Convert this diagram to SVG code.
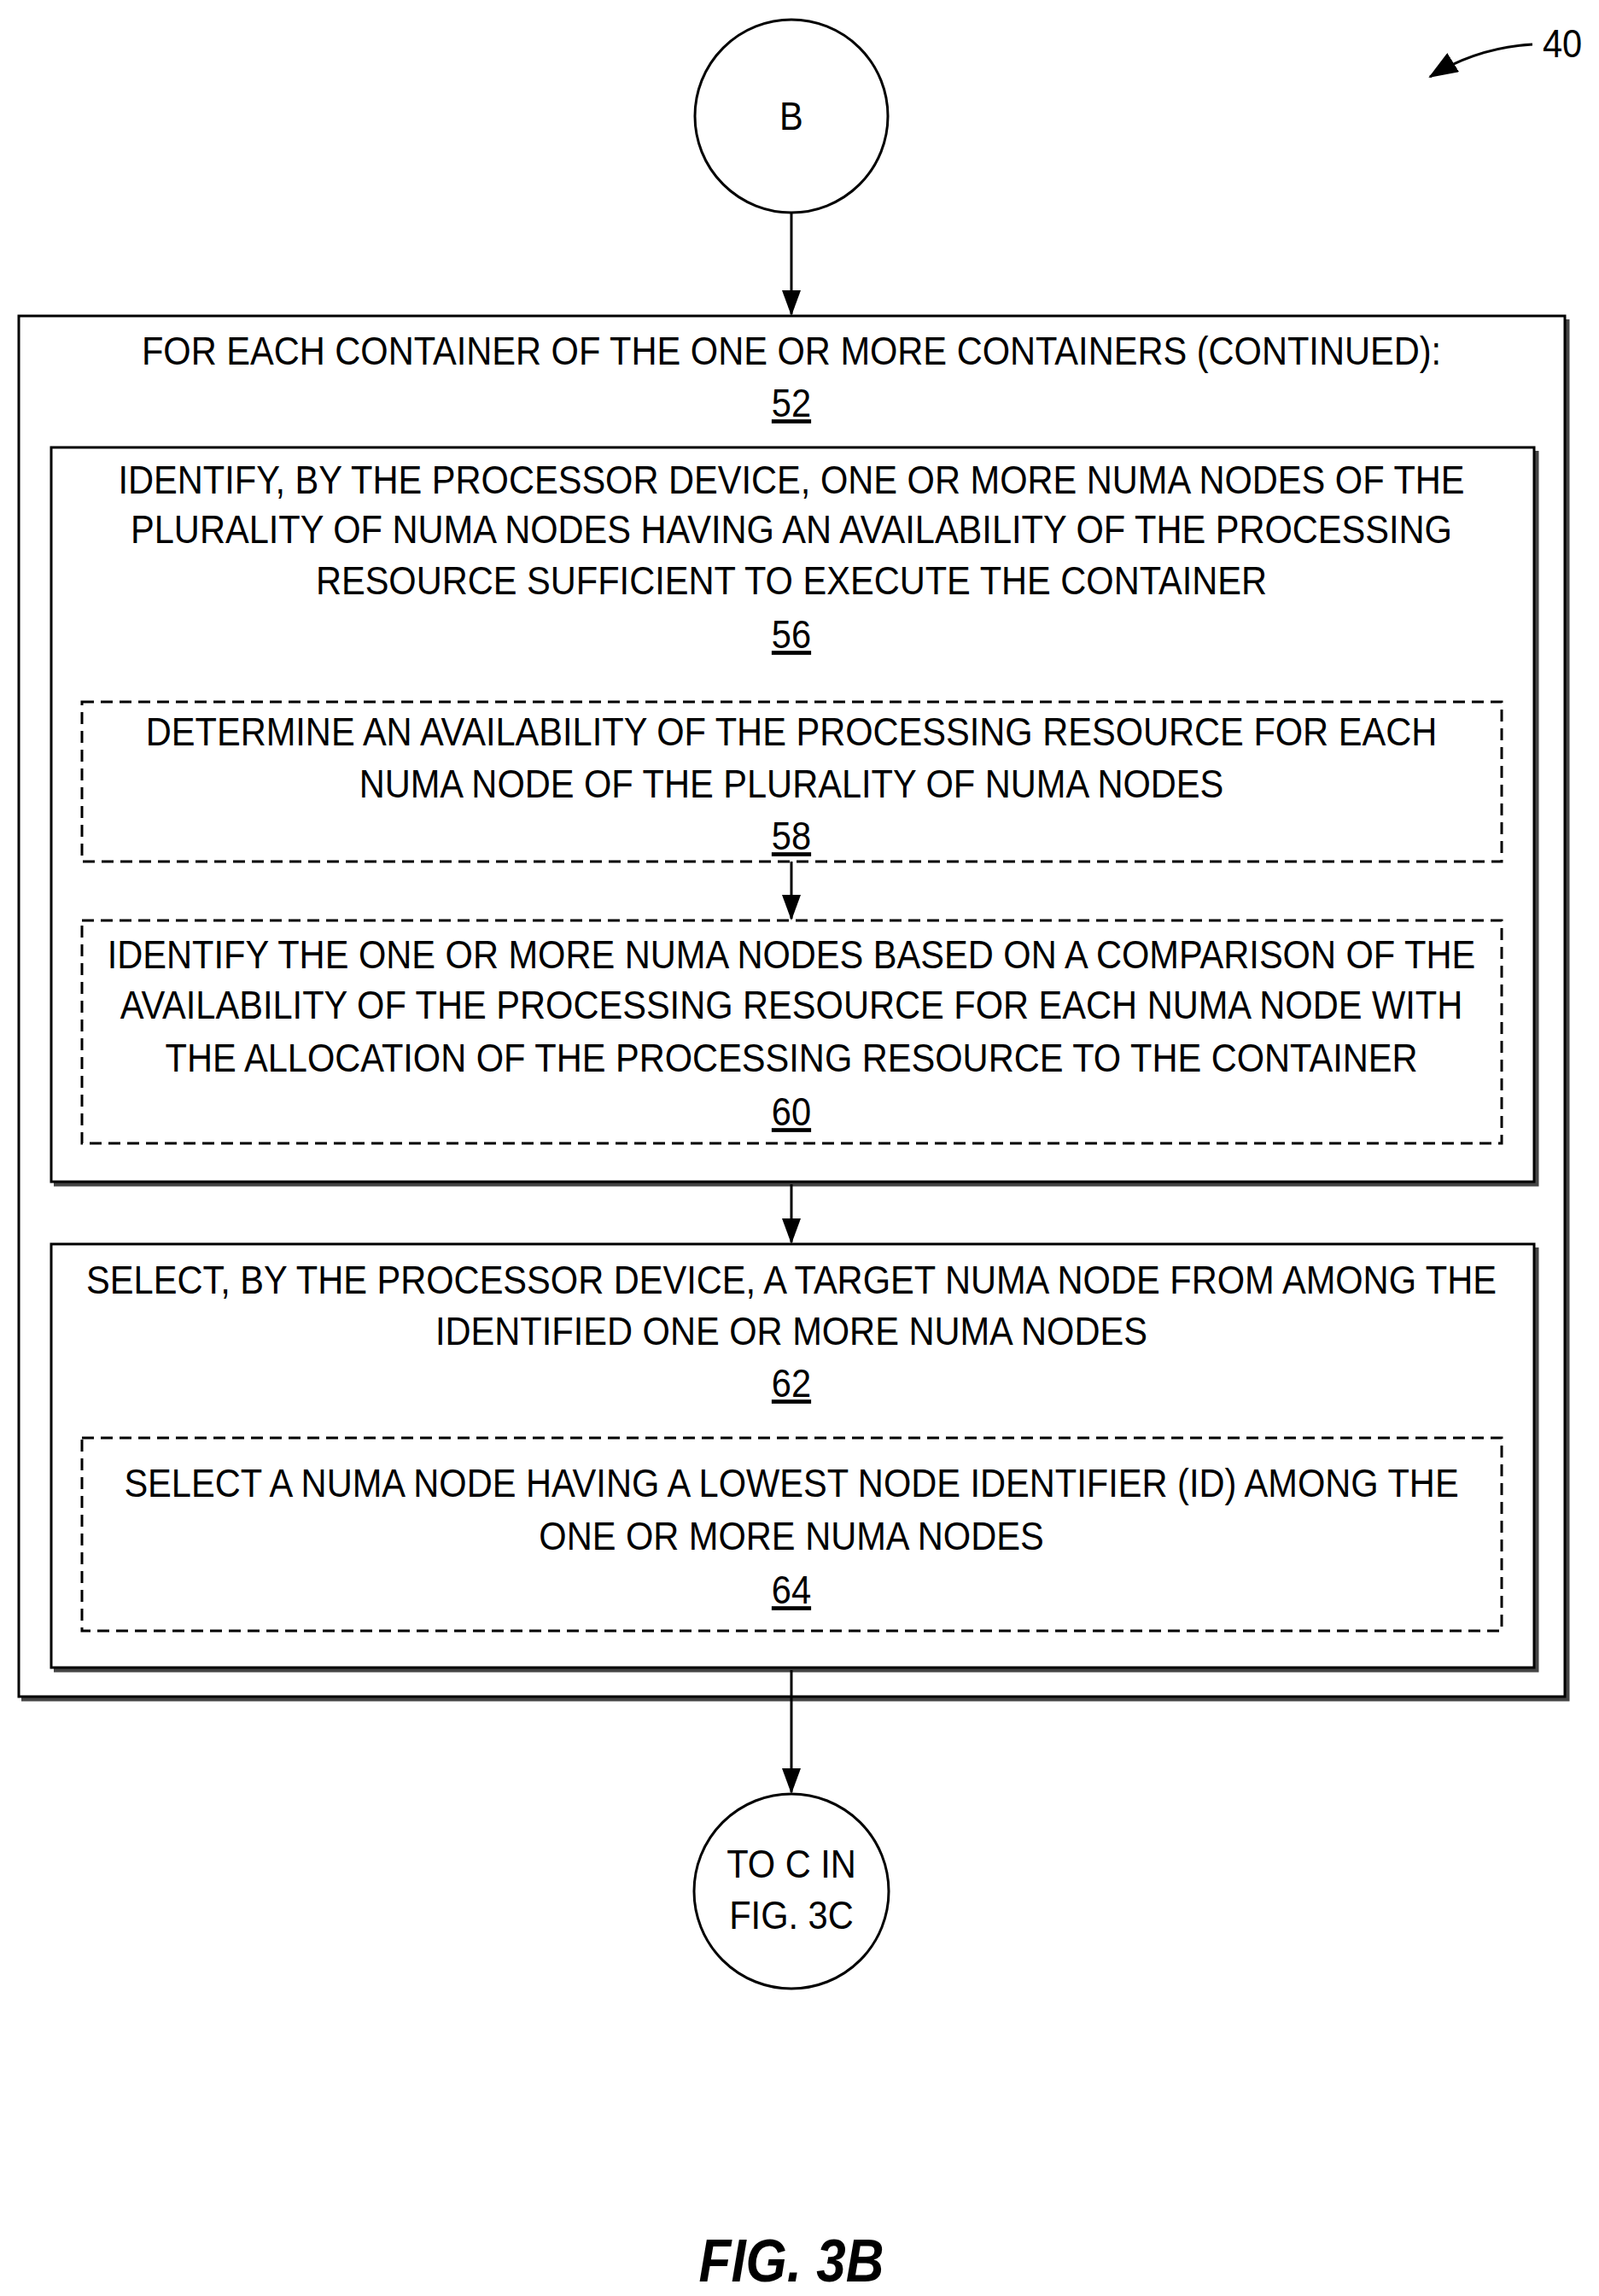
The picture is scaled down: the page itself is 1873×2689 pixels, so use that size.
<svg xmlns="http://www.w3.org/2000/svg" width="1873" height="2689" viewBox="0 0 1873 2689">
<style>
text{font-family:"Liberation Sans Narrow","Arial Narrow","Liberation Sans",sans-serif;font-size:47px;fill:#000;text-anchor:middle}
.n{text-decoration:underline}
.box{fill:#fff;stroke:#000;stroke-width:3}
.dash{fill:none;stroke:#000;stroke-width:3;stroke-dasharray:14 8}
.sh{fill:none;stroke:#444;stroke-width:5}
.ln{stroke:#000;stroke-width:3;fill:none}
</style>
<defs>
<marker id="ah" markerWidth="34" markerHeight="26" refX="32" refY="13" orient="auto" markerUnits="userSpaceOnUse"><path d="M0,0 L34,13 L0,26 z" fill="#000"/></marker>
<marker id="ah2" markerWidth="30" markerHeight="22" refX="28" refY="11" orient="auto" markerUnits="userSpaceOnUse"><path d="M0,0 L30,11 L0,22 z" fill="#000"/></marker>
</defs>
<rect width="1873" height="2689" fill="#fff"/>
<g id="ref40">
<text x="1830" y="67" transform="matrix(0.885,0,0,1,210.5,0)">40</text>
<path d="M1795,52 C1760,54 1720,62 1675,90" class="ln" marker-end="url(#ah)"/>
</g>
<g id="nodeB">
<circle cx="927" cy="136" r="113" class="box"/>
<text x="927" y="152" transform="matrix(0.885,0,0,1,106.6,0)">B</text>
</g>
<g id="n52">
<path d="M1836,374 V1990 H25" class="sh"/>
<rect x="22" y="370" width="1811" height="1617" class="box"/>
<g transform="matrix(0.885,0,0,1,106.6,0)">
<text x="927" y="427">FOR EACH CONTAINER OF THE ONE OR MORE CONTAINERS (CONTINUED):</text>
<text x="927" y="488" class="n">52</text>
</g>
</g>
<g id="n56">
<path d="M1800,528 V1387 H63" class="sh"/>
<rect x="60" y="524" width="1737" height="860" class="box"/>
<g transform="matrix(0.885,0,0,1,106.6,0)">
<text x="927" y="578">IDENTIFY, BY THE PROCESSOR DEVICE, ONE OR MORE NUMA NODES OF THE</text>
<text x="927" y="636">PLURALITY OF NUMA NODES HAVING AN AVAILABILITY OF THE PROCESSING</text>
<text x="927" y="696">RESOURCE SUFFICIENT TO EXECUTE THE CONTAINER</text>
<text x="927" y="759" class="n">56</text>
</g>
</g>
<g id="n58">
<rect x="96" y="822" width="1663" height="187" class="dash"/>
<g transform="matrix(0.885,0,0,1,106.6,0)">
<text x="927" y="873">DETERMINE AN AVAILABILITY OF THE PROCESSING RESOURCE FOR EACH</text>
<text x="927" y="934">NUMA NODE OF THE PLURALITY OF NUMA NODES</text>
<text x="927" y="995" class="n">58</text>
</g>
</g>
<g id="n60">
<rect x="96" y="1078" width="1663" height="261" class="dash"/>
<g transform="matrix(0.885,0,0,1,106.6,0)">
<text x="927" y="1134">IDENTIFY THE ONE OR MORE NUMA NODES BASED ON A COMPARISON OF THE</text>
<text x="927" y="1193">AVAILABILITY OF THE PROCESSING RESOURCE FOR EACH NUMA NODE WITH</text>
<text x="927" y="1255">THE ALLOCATION OF THE PROCESSING RESOURCE TO THE CONTAINER</text>
<text x="927" y="1318" class="n">60</text>
</g>
</g>
<g id="n62">
<path d="M1800,1461 V1956 H63" class="sh"/>
<rect x="60" y="1457" width="1737" height="496" class="box"/>
<g transform="matrix(0.885,0,0,1,106.6,0)">
<text x="927" y="1515">SELECT, BY THE PROCESSOR DEVICE, A TARGET NUMA NODE FROM AMONG THE</text>
<text x="927" y="1575">IDENTIFIED ONE OR MORE NUMA NODES</text>
<text x="927" y="1636" class="n">62</text>
</g>
</g>
<g id="n64">
<rect x="96" y="1684" width="1663" height="226" class="dash"/>
<g transform="matrix(0.885,0,0,1,106.6,0)">
<text x="927" y="1753">SELECT A NUMA NODE HAVING A LOWEST NODE IDENTIFIER (ID) AMONG THE</text>
<text x="927" y="1815">ONE OR MORE NUMA NODES</text>
<text x="927" y="1878" class="n">64</text>
</g>
</g>
<g id="nodeC">
<circle cx="927" cy="2215" r="114" class="box"/>
<g transform="matrix(0.885,0,0,1,106.6,0)">
<text x="927" y="2199">TO C IN</text>
<text x="927" y="2259">FIG. 3C</text>
</g>
</g>
<g id="connectors">
<line x1="927" y1="249" x2="927" y2="368" class="ln" marker-end="url(#ah2)"/>
<line x1="927" y1="1009" x2="927" y2="1076" class="ln" marker-end="url(#ah2)"/>
<line x1="927" y1="1387" x2="927" y2="1455" class="ln" marker-end="url(#ah2)"/>
<line x1="927" y1="1956" x2="927" y2="2099" class="ln" marker-end="url(#ah2)"/>
</g>
<text x="927" y="2672" transform="matrix(0.885,0,0,1,106.6,0)" style="font-size:70px;font-weight:bold;font-style:italic">FIG. 3B</text>
</svg>
